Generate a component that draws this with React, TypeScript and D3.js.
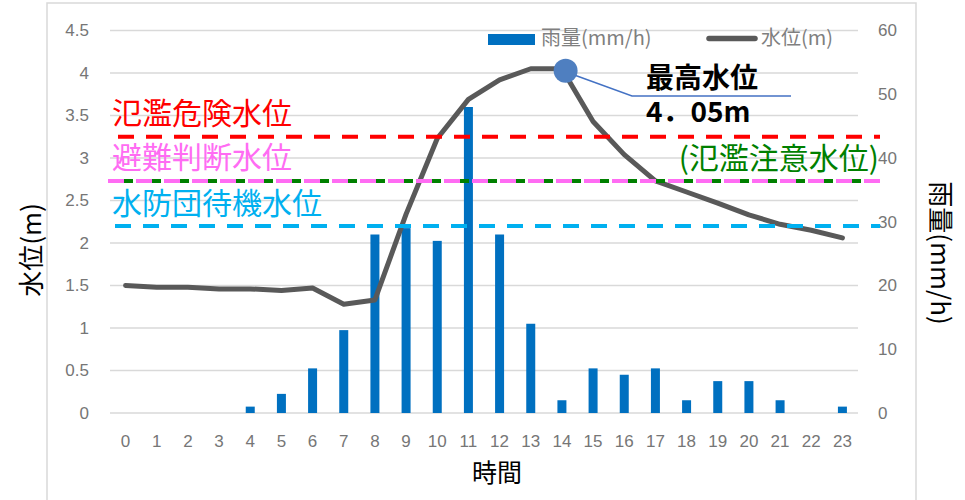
import React from 'react';
import * as d3 from 'd3';

const hours = ['0','1','2','3','4','5','6','7','8','9','10','11','12','13','14','15','16','17','18','19','20','21','22','23'];
const rain = [0,0,0,0,1,3,7,13,28,29,27,48,28,14,2,7,6,7,2,5,5,2,0,1];
const level = [1.50,1.48,1.48,1.46,1.46,1.44,1.47,1.28,1.33,2.34,3.23,3.69,3.92,4.05,4.05,3.43,3.04,2.73,2.60,2.47,2.33,2.22,2.15,2.06];
const leftTicks = [0,0.5,1,1.5,2,2.5,3,3.5,4,4.5];
const rightTicks = [0,10,20,30,40,50,60];
const thresholdNames = ['氾濫危険水位','避難判断水位','水防団待機水位'];
const thresholdValues = [3.25, 2.73, 2.2];
const thresholdColors = ['#ff0000','#ff6cf3','#00b0f0'];
const cautionLabel = '(氾濫注意水位)';
const peakIndex = 14;
const peakTitle = '最高水位';
const peakValue = '4．05m';
const legendRain = '雨量(mm/h)';
const legendLevel = '水位(m)';
const xTitle = '時間';
const yLeftTitle = '水位(m)';
const yRightTitle = '雨量(mm/h)';

const W = 965, H = 500;
const PL = 110, PR = 858, PT = 30.5, PB = 413;
const CJK = '"Noto Sans CJK JP", sans-serif';
const NUM = '"Liberation Sans", Arial, sans-serif';

export default function App() {
  const x = d3.scaleBand<string>().domain(hours).range([PL, PR]).padding(0);
  const yL = d3.scaleLinear().domain([0, 4.5]).range([PB, PT]);
  const yR = d3.scaleLinear().domain([0, 60]).range([PB, PT]);
  const cx = (i: number) => (x(hours[i]) as number) + x.bandwidth() / 2;
  const line = d3.line<number>().x((_, i) => cx(i)).y(d => yL(d)).curve(d3.curveLinear);
  const barW = 9;
  const lineStart = [118, 108, 115];
  const lineEnd = 880;

  const px = cx(peakIndex) + 3.7;
  const py = yL(level[peakIndex]) + 2;

  return (
    <svg width={W} height={H} style={{ position: 'absolute', left: 0, top: 0, display: 'block', background: '#fff' }}>
      <rect x={47} y={3} width={869} height={H + 10} fill="#fff" stroke="#d9d9d9" strokeWidth={1.5} />
      {/* grid */}
      {leftTicks.map(t => (
        <line key={'g' + t} x1={PL} x2={PR} y1={yL(t)} y2={yL(t)} stroke="#d9d9d9" strokeWidth={1.5} />
      ))}
      {/* left ticks */}
      {leftTicks.map(t => (
        <text key={'l' + t} x={89} y={yL(t)} dy="0.35em" textAnchor="end" fontFamily={NUM} fontSize={17} fill="#767676">{String(t)}</text>
      ))}
      {rightTicks.map(t => (
        <text key={'r' + t} x={878} y={yR(t)} dy="0.35em" textAnchor="start" fontFamily={NUM} fontSize={17} fill="#767676">{String(t)}</text>
      ))}
      {hours.map((h, i) => (
        <text key={'x' + h} x={cx(i)} y={441} dy="0.35em" textAnchor="middle" fontFamily={NUM} fontSize={17} fill="#767676">{h}</text>
      ))}
      {/* bars */}
      {rain.map((r, i) => r > 0 ? (
        <rect key={'b' + i} x={cx(i) - barW / 2} y={yR(r)} width={barW} height={PB - yR(r)} fill="#0070c0" />
      ) : null)}
      {/* water level */}
      <path d={line(level) || ''} fill="none" stroke="#595959" strokeWidth={5} strokeLinejoin="round" strokeLinecap="round" />
      {/* thresholds */}
      <line x1={lineStart[1]} x2={lineEnd} y1={yL(thresholdValues[1])} y2={yL(thresholdValues[1])} stroke="#008000" strokeWidth={4} strokeDasharray="0 16 9 3" />
      {thresholdValues.map((v, i) => (
        <line key={'t' + i} x1={lineStart[i]} x2={lineEnd} y1={yL(v)} y2={yL(v)} stroke={thresholdColors[i]} strokeWidth={4} strokeDasharray="16 12" />
      ))}
      {thresholdNames.map((n, i) => (
        <text key={'tn' + i} x={112} y={yL(thresholdValues[i]) - 12.5} fontFamily={CJK} fontSize={30} fill={thresholdColors[i]}>{n}</text>
      ))}
      <text x={879} y={yL(thresholdValues[1]) - 12} textAnchor="end" fontFamily={CJK} fontSize={30} fill="#008000">{cautionLabel}</text>
      {/* peak annotation */}
      <polyline points={`${px + 8},${py + 4} 632,96 791,96`} fill="none" stroke="#4472c4" strokeWidth={1.5} />
      <circle cx={px} cy={py} r={12} fill="#4f7fc0" />
      <text x={646} y={88} fontFamily={CJK} fontSize={28} fontWeight={700} fill="#000">{peakTitle}</text>
      <text x={646} y={122} fontFamily={CJK} fontSize={28} fontWeight={700} fill="#000">{peakValue}</text>
      {/* legend */}
      <rect x={488} y={34} width={47} height={11} fill="#0070c0" />
      <text x={541} y={44.5} fontFamily={CJK} fontSize={20} fill="#7f7f7f">{legendRain}</text>
      <line x1={709} x2={755} y1={38.5} y2={38.5} stroke="#595959" strokeWidth={5.5} strokeLinecap="round" />
      <text x={761} y={44.5} fontFamily={CJK} fontSize={20} fill="#7f7f7f">{legendLevel}</text>
      {/* axis titles */}
      <text x={497} y={482} textAnchor="middle" fontFamily={CJK} fontSize={25} fill="#000">{xTitle}</text>
      <text transform={`translate(41,250) rotate(-90)`} textAnchor="middle" fontFamily={CJK} fontSize={26} fill="#000">{yLeftTitle}</text>
      <text transform={`translate(931,253) rotate(90)`} textAnchor="middle" fontFamily={CJK} fontSize={26} fill="#000">{yRightTitle}</text>
    </svg>
  );
}
